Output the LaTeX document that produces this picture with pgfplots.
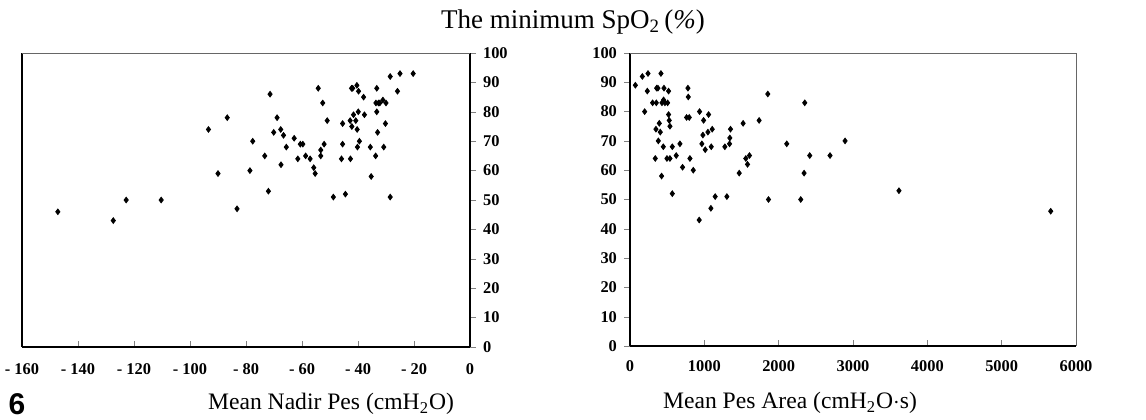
\documentclass[border=0pt]{standalone}
\usepackage{fontspec}
\setmainfont{Liberation Serif}
\newfontfamily\sansfont{Liberation Sans}
\usepackage{pgfplots}
\pgfplotsset{compat=1.18}

\pgfplotsset{
  spo/.style={
    scale only axis,
    ymin=0, ymax=100, ytick={0,10,...,100},
    tick label style={font=\bfseries\fontsize{8.2}{9}\selectfont},
    /pgf/number format/assume math mode=true,
    /pgf/number format/1000 sep={},
    major tick length=3pt,
    axis line style={line width=0.6pt},
  },
  pts/.style={only marks, black, mark=diamond*, mark size=1.4pt, mark options={fill=black}},
}

\begin{document}
\begin{tikzpicture}
\useasboundingbox (0,0) rectangle (573pt,209.5pt);

% left panel: nadir Pes
\begin{axis}[spo,
  at={(11pt,36pt)}, anchor=south west,
  width=224pt, height=147pt,
  xmin=-160, xmax=0, xtick={-160,-140,...,0},
  xticklabels={- 160,- 140,- 120,- 100,- 80,- 60,- 40,- 20,0},
  axis x line*=bottom, axis y line*=right,
  xtick align=inside, ytick align=outside,
  xticklabel style={yshift=-5pt},
  ]
\addplot[pts] coordinates {
(-147.2,46) (-127.4,43) (-122.8,50) (-110.3,50) (-93.4,74) (-90.0,59)
(-86.7,78) (-83.2,47) (-78.6,60) (-77.6,70) (-73.3,65) (-72.0,53)
(-71.4,86) (-70.1,73) (-68.9,78) (-67.6,74) (-67.5,62) (-66.6,72)
(-65.6,68) (-62.8,71) (-61.5,64) (-60.6,69) (-59.7,69) (-58.7,65)
(-57.1,64) (-55.8,61) (-55.3,59) (-54.2,88) (-53.3,67) (-53.3,65)
(-52.6,83) (-52.1,69) (-51.0,77) (-48.8,51) (-45.9,64) (-45.5,76)
(-45.5,69) (-44.5,52) (-42.8,77) (-42.7,64) (-42.3,88) (-42.2,75)
(-41.9,88) (-41.6,79) (-40.8,77) (-40.4,89) (-40.3,74) (-40.2,68)
(-39.9,80) (-39.8,87) (-39.5,70) (-38.0,85) (-37.7,79) (-35.6,68)
(-35.3,58) (-33.7,65) (-33.6,83) (-33.3,80) (-33.3,88) (-33.0,73)
(-32.7,83) (-32.2,83) (-31.1,84) (-30.8,68) (-30.2,76) (-30.0,83)
(-28.5,92) (-28.5,51) (-25.9,87) (-25.0,93) (-20.3,93)
};
\end{axis}
\draw[line width=0.6pt] (11pt,36pt) -- (11pt,183pt);
\draw[line width=0.5pt, black!60] (11pt,183pt) -- (235pt,183pt);

% right panel: Pes area
\begin{axis}[spo,
  at={(315pt,36.5pt)}, anchor=south west,
  width=223pt, height=146.5pt,
  xmin=0, xmax=6000, xtick={0,1000,...,6000},
  axis x line*=bottom, axis y line*=left,
  xtick align=inside, ytick align=outside,
  xticklabel style={yshift=-4pt},
  ]
\addplot[pts] coordinates {
(72,89) (166,92) (197,80) (233,87) (242,93) (304,83) (354,83) (340,64)
(349,74) (358,88) (376,88) (381,70) (394,76) (407,73) (416,93) (425,58)
(430,83) (448,68) (452,84) (457,88) (470,83) (497,64) (506,83) (519,87)
(519,79) (528,77) (537,75) (537,64) (569,52) (569,68) (622,65) (672,69)
(707,61) (761,78) (779,88) (784,85) (797,78) (806,64) (851,60) (931,43)
(936,80) (967,69) (981,72) (990,77) (1012,67) (1048,73) (1057,79) (1088,47)
(1093,68) (1106,74) (1146,51) (1276,68) (1303,51) (1339,69) (1343,71) (1352,74)
(1469,59) (1522,76) (1558,64) (1581,62) (1607,65) (1737,77) (1854,86) (1863,50)
(2109,69) (2297,50) (2342,59) (2351,83) (2418,65) (2691,65) (2893,70) (3618,53)
(5660,46)
};
\end{axis}
\draw[line width=0.5pt, black!60] (315pt,183pt) -- (538pt,183pt) -- (538pt,36.5pt);

% texts
\node[font=\fontsize{13.5}{15}\selectfont] at (286.5pt,198.5pt) {The minimum SpO\textsubscript{2}\,(\textit{\%})};
\node[font=\fontsize{11.8}{13}\selectfont] at (165.5pt,7.5pt) {Mean Nadir Pes (cmH\textsubscript{2}O)};
\node[font=\fontsize{11.8}{13}\selectfont] at (395pt,8pt) {Mean Pes Area (cmH\textsubscript{2}O$\cdot$s)};
\node[font=\sansfont\bfseries\fontsize{15}{16}\selectfont] at (8.5pt,7.5pt) {6};
\end{tikzpicture}
\end{document}
